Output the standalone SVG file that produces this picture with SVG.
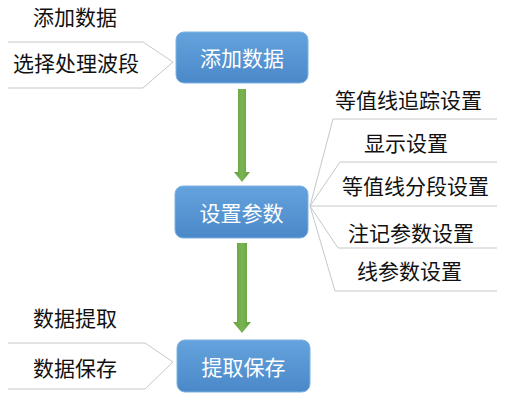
<svg xmlns="http://www.w3.org/2000/svg" width="526" height="407" viewBox="0 0 526 407">
<defs>
<linearGradient id="bg" x1="0" y1="0" x2="0" y2="1">
<stop offset="0" stop-color="#65a3dd"/>
<stop offset="1" stop-color="#4b88c9"/>
</linearGradient>
<linearGradient id="ag" x1="0" y1="0" x2="1" y2="0">
<stop offset="0" stop-color="#62a03c"/>
<stop offset="0.5" stop-color="#79b552"/>
<stop offset="1" stop-color="#62a03c"/>
</linearGradient>
</defs>
<style>
text{font-family:"Noto Sans CJK SC","Noto Sans",sans-serif;font-size:21px;dominant-baseline:central}
.box{fill:url(#bg);stroke:#7fb2e3;stroke-width:1}
.bt{fill:#ffffff;text-anchor:middle;font-size:21px}
.lt{fill:#111111}
.ln{fill:none;stroke:#c4c8cc;stroke-width:1}
.ar{fill:url(#ag)}
</style>
<rect width="526" height="407" fill="#ffffff"/>
<g id="connectors">
<path class="ln" d="M8 42 H143 L173 62 L143 88 H8"/>
<path class="ln" d="M8 343 H145 L173 362 L145 389 H8"/>
<path class="ln" d="M310 206 L333 119 H497"/>
<path class="ln" d="M310 206 L340 162 H497"/>
<path class="ln" d="M310 206 H497"/>
<path class="ln" d="M310 206 L338 248 H497"/>
<path class="ln" d="M310 206 L335 291 H497"/>
<path class="ar" d="M238 89 H246 V172 H250 L242 182 L234 172 H238 Z"/>
<path class="ar" d="M237 243 H247 V322 H251 L242 333 L233 322 H237 Z"/>
</g>
<g id="n1">
<rect class="box" x="176" y="32" width="132" height="51" rx="8"/>
<text class="bt" x="242" y="57">添加数据</text>
</g>
<g id="n2">
<rect class="box" x="175" y="186" width="133" height="52" rx="8"/>
<text class="bt" x="241.5" y="212">设置参数</text>
</g>
<g id="n3">
<rect class="box" x="177" y="340" width="133" height="52" rx="8"/>
<text class="bt" x="243.5" y="366">提取保存</text>
</g>
<g id="labels">
<text class="lt" x="33" y="16">添加数据</text>
<text class="lt" x="13" y="62">选择处理波段</text>
<text class="lt" x="33" y="317">数据提取</text>
<text class="lt" x="33" y="367">数据保存</text>
<text class="lt" x="335" y="99">等值线追踪设置</text>
<text class="lt" x="364" y="142">显示设置</text>
<text class="lt" x="342" y="185">等值线分段设置</text>
<text class="lt" x="348" y="232">注记参数设置</text>
<text class="lt" x="357" y="270">线参数设置</text>
</g>
</svg>
